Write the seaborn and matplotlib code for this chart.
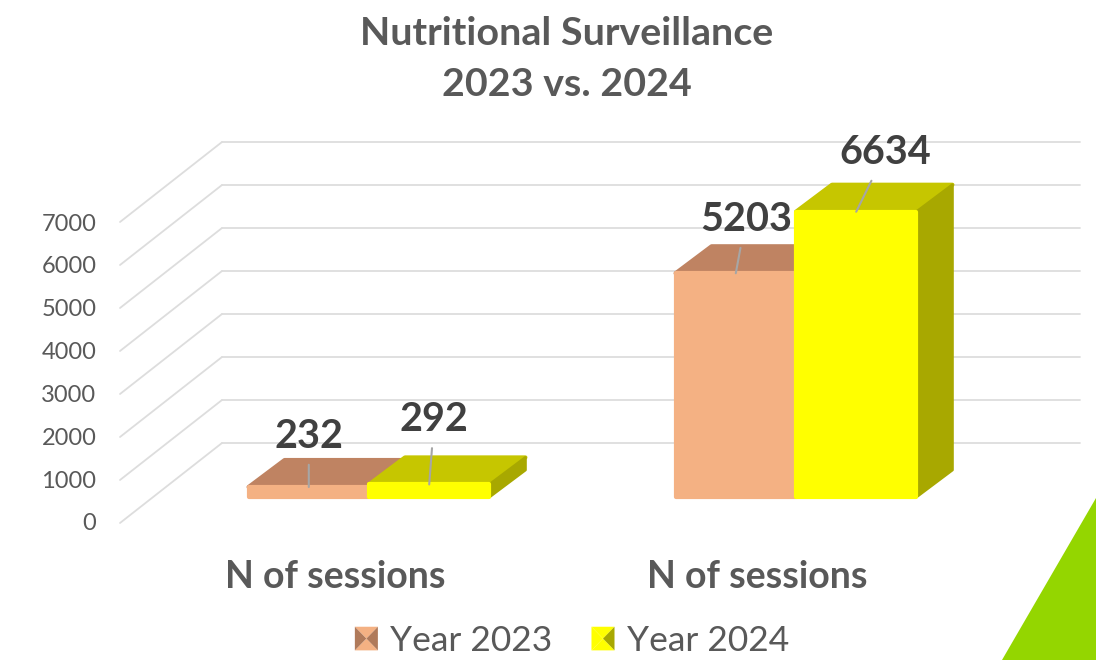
import matplotlib
matplotlib.use("Agg")
import matplotlib.pyplot as plt
import pandas as pd
import seaborn as sns
from matplotlib.legend_handler import HandlerBase
from matplotlib.patches import Patch, Polygon

groups = ["Group A", "Group B"]
group_labels = ["N of sessions", "N of sessions"]
years = ["Year 2023", "Year 2024"]
values_2023 = [232, 5203]
values_2024 = [292, 6634]
axis_ticks = [0, 1000, 2000, 3000, 4000, 5000, 6000, 7000]

W, H = 1096, 660
sns.set_theme(style="white")
plt.rcParams["font.family"] = ["Lato", "DejaVu Sans"]

PX_Y = 0.043      # pixels per unit
PX_X = 427.0      # pixels per category
BASE_Y = 497
C0_X = 369
DX, DY = 36, 27   # 3D depth in pixels

df = pd.DataFrame({
    "group": groups * 2,
    "year": [years[0]] * 2 + [years[1]] * 2,
    "value": values_2023 + values_2024,
})
front = {years[0]: "#F4B183", years[1]: "#FFFF00"}
top = {years[0]: "#BF8362", years[1]: "#C6C600"}
side = {years[0]: "#B07A5A", years[1]: "#A8A800"}
swatch_left = {years[0]: "#B07A5A", years[1]: "#FFFF00"}

fig = plt.figure(figsize=(W / 100, H / 100), dpi=100, facecolor="white")
ax = fig.add_axes([0, 0, 1, 1])
ax.set_facecolor("none")
sns.barplot(data=df, x="group", y="value", hue="year", order=groups, hue_order=years,
            palette=front, width=0.564, gap=0, dodge=True, legend=False, saturation=1, ax=ax)
ax.set_xlim(-C0_X / PX_X, (W - C0_X) / PX_X)
ax.set_ylim(-(H - BASE_Y) / PX_Y, BASE_Y / PX_Y)
ax.axis("off")

dx, dy = DX / PX_X, DY / PX_Y
px_x, px_y = 1 / PX_X, 1 / PX_Y

# Back wall grid and left wall diagonals
grid = "#DDDDDD"
for v in axis_ticks:
    back_y = v + 54 * px_y
    ax.plot([(222 - C0_X) * px_x, (1080 - C0_X) * px_x], [back_y, back_y], color=grid, lw=1.3, zorder=1)
    ax.plot([(120 - C0_X) * px_x, (222 - C0_X) * px_x], [v - 26 * px_y, back_y], color=grid, lw=1.3, zorder=1)

# 3D faces for each bar (order: 2023 group A, 2023 group B, 2024 group A, 2024 group B)
bars = list(ax.patches)
year_of_bar = [years[0]] * 2 + [years[1]] * 2
label_offsets = [(0, 51), (10, 54), (5, 65), (29, 59)]
for i, (bar, year) in enumerate(zip(bars, year_of_bar)):
    z = 3 if year == years[0] else 5
    x0, x1 = bar.get_x(), bar.get_x() + bar.get_width()
    h = bar.get_height()
    bar.set_zorder(z + 0.5)
    bar.set_edgecolor(front[year])
    bar.set_linewidth(3)
    bar.set_joinstyle("round")
    ax.add_patch(Polygon([(x0, h), (x1, h), (x1 + dx, h + dy), (x0 + dx, h + dy)],
                         closed=True, fc=top[year], ec=top[year], lw=3, joinstyle="round", zorder=z))
    ax.add_patch(Polygon([(x1, 0), (x1 + dx, dy), (x1 + dx, h + dy), (x1, h)],
                         closed=True, fc=side[year], ec=side[year], lw=2, joinstyle="round", zorder=z))
    ox, oy = label_offsets[i]
    ax.annotate(str(int(h)), xy=((x0 + x1) / 2, h), xytext=(ox * 0.72, oy * 0.72),
                textcoords="offset points", ha="center", va="center",
                fontsize=28.5, fontweight="bold", color="#404040", zorder=10,
                arrowprops=dict(arrowstyle="-", color="#A6A6A6", lw=1.5,
                                shrinkA=5, shrinkB=0, zorder=9))

# Value axis labels
tick_ax = fig.add_axes([120 / W, (H - 522) / H, 10 / W, 300 / H])
tick_ax.set_facecolor("none")
tick_ax.set_ylim(0, 7000)
tick_ax.set_yticks(axis_ticks)
tick_ax.set_yticklabels([str(t) for t in axis_ticks], fontsize=17, color="#595959")
tick_ax.tick_params(axis="y", length=0, pad=17)
tick_ax.set_xticks([])
sns.despine(ax=tick_ax, left=True, bottom=True)

# Category labels
for label, cx in zip(group_labels, [335, 757]):
    ax.text((cx - C0_X) * px_x, (BASE_Y - 577) * px_y, label, ha="center", va="center",
            fontsize=27, fontweight="bold", color="#595959")

# Title
fig.text(567 / W, 1 - 59 / H, "Nutritional Surveillance\n2023 vs. 2024", ha="center", va="center",
         fontsize=28.4, fontweight="bold", color="#595959", linespacing=1.55)

# Decorative corner
fig.add_artist(Polygon([(1096 / W, 1 - 498 / H), (1096 / W, 0), (1002 / W, 0)], closed=True,
                       transform=fig.transFigure, fc="#94D600", ec="none"))


class Bevel(HandlerBase):
    def create_artists(self, legend, orig, xd, yd, w, h, fs, trans):
        year = orig.get_label()
        x0, y0, x1, y1 = -xd, -yd, -xd + w, -yd + h
        cx, cy = (x0 + x1) / 2, (y0 + y1) / 2
        faces = [
            ([(x0, y0), (x1, y0), (cx, cy)], front[year]),
            ([(x0, y1), (x1, y1), (cx, cy)], front[year]),
            ([(x0, y0), (x0, y1), (cx, cy)], swatch_left[year]),
            ([(x1, y0), (x1, y1), (cx, cy)], side[year]),
        ]
        return [Polygon(p, closed=True, fc=c, ec="none", transform=trans) for p, c in faces]


handles = [Patch(fc=front[y], ec=side[y], label=y) for y in years]
leg = fig.legend(handles, years, loc="center", bbox_to_anchor=(572 / W, 1 - 641 / H), ncol=2, frameon=False,
                 fontsize=25.5, labelcolor="#595959", handlelength=0.65, handleheight=0.65, handletextpad=0.35,
                 columnspacing=1.1, borderpad=0,
                 handler_map={Patch: Bevel()})

fig.savefig("out.png", dpi=100)
